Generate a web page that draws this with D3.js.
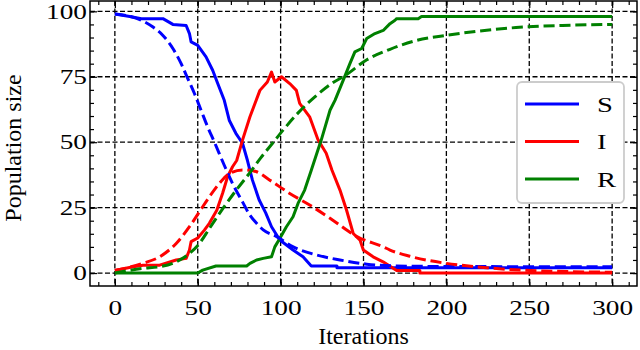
<!DOCTYPE html>
<html lang="en">
<head>
    <meta charset="UTF-8">
    <title>SIR</title>
    <script src="https://cdnjs.cloudflare.com/ajax/libs/d3/7.8.5/d3.min.js"></script>
    <style>
        body { margin: 0; background: #fff; }
        svg { display: block; }
        text { font-family: "Liberation Serif", "Times New Roman", serif; fill: #000; }
    </style>
</head>
<body>
<svg id="chart" width="640" height="350"></svg>
<script>
    // stochastic run (solid), [iteration, value]
    let stochS = [[0, 99], [9, 98], [16, 97.2], [29, 97.2], [35, 95], [43, 94.6], [45, 91.5], [46, 88.3], [50, 87],
        [55, 82.6], [59, 77.5], [62, 72.5], [66, 66], [69, 58.4], [73, 53.4], [77, 49.6], [80, 43], [83, 35.5],
        [87, 28], [91, 23], [94.5, 17.7], [99.5, 12.6], [107.5, 8.8], [113.5, 6.2], [118.5, 2.7], [134, 2.7],
        [134, 2], [300, 2]];
    let stochI = [[0, 1], [11, 2.4], [17, 3], [27, 3], [37, 5], [43, 5.6], [45, 8.8], [46, 12], [50, 13.4],
        [54, 16.4], [57, 19], [61.5, 24], [65, 30.5], [68, 36.8], [71, 40.6], [73.5, 43], [77, 50.8], [81.5, 59.7],
        [87.5, 69.8], [92, 73], [94.5, 76.8], [96.5, 73], [100.5, 75], [105.5, 72.4], [109.5, 69.8], [111.5, 64.8],
        [117.5, 59.7], [122.5, 51], [127.5, 45.8], [131, 39.3], [135.8, 31.7], [139.8, 24], [143.8, 15.1],
        [147.9, 12.6], [149.9, 8.8], [155.8, 6.2], [161.8, 4.3], [170, 1], [184, 1], [184, 0], [300, 0]];
    let stochR = [[0, 0], [50, 0], [53, 1.1], [61, 2.7], [79.5, 2.7], [81.5, 3.7], [85.5, 5], [89.5, 5.6],
        [94.5, 6.2], [96.5, 10], [99.5, 13.2], [103.5, 17.7], [107.5, 21.5], [110.5, 26.6], [114.5, 31.7],
        [118.5, 39.3], [122.5, 47], [124.5, 50.8], [129.8, 62.2], [132.8, 66], [137.8, 73.7], [141.8, 80],
        [144.8, 84.5], [148.9, 85.8], [151.9, 89.6], [156.9, 91.5], [161.9, 92.7], [166, 95.3], [169, 96.6],
        [170, 97.2], [183, 97.2], [185, 98], [300, 98]];

    // deterministic model (dashed)
    let detS = [[0, 99], [16, 96.6], [23, 94], [29, 90.8], [35, 85.8], [40, 80], [44, 74.3], [48, 68.6],
        [52, 62.2], [56, 55.8], [60, 50.1], [66, 41.2], [71, 34.2], [77, 27.2], [81.5, 22.1], [85.5, 19],
        [89.5, 16.5], [97.6, 13.9], [107.6, 10], [121.7, 6.9], [135.8, 5], [152, 3.4], [170, 2.7], [200, 2.5],
        [300, 2.4]];
    let detI = [[0, 1], [17, 3.7], [27, 6.2], [37, 11.3], [45, 17.7], [51, 23.4], [57, 29.1], [63, 34.2],
        [69, 38], [77, 39.4], [81.5, 39.3], [85.5, 38.7], [93.5, 35.5], [105.5, 30.4], [117.5, 26],
        [131.5, 20.2], [146, 13.9], [162, 10], [166, 8.8], [178, 6.4], [200, 3.7], [218, 2.4], [246, 1.1],
        [300, 0.3]];
    let detR = [[0, 0], [17, 1.8], [27, 2.4], [37, 4.3], [45, 7.5], [51, 11.3], [57, 17], [65, 24.5],
        [73, 31.5], [81, 38], [88, 44], [95, 49.5], [102, 55], [111, 61.5], [121, 67.5], [131, 72.5],
        [139, 75.5], [152, 81.5], [166, 85.5], [182, 88.9], [200, 90.8], [220, 92.5], [242, 93.8],
        [270, 94.6], [300, 95]];

    let xTicks = [0, 50, 100, 150, 200, 250, 300];
    let yTicks = [0, 25, 50, 75, 100];
    let legendNames = ["S", "I", "R"];
    let colors = ["#0000ff", "#ff0000", "#008000"];

    let svg = d3.select("#chart");
    let pLeft = 90, pRight = 637, pTop = 1, pBottom = 286;
    let stretch = 1.3; // tick and legend glyphs look wider in the reference

    let x = d3.scaleLinear().domain([-15, 315]).range([pLeft, pRight]);
    let y = d3.scaleLinear().domain([-4.95, 103.95]).range([pBottom, pTop]);

    // grid
    let grid = svg.append("g");
    grid.selectAll(".gx").data(xTicks).enter().append("line")
        .attr("x1", d => x(d)).attr("x2", d => x(d))
        .attr("y1", pTop).attr("y2", pBottom)
        .attr("stroke", "#000").attr("stroke-width", 1.3).attr("stroke-dasharray", "5,2.5");
    grid.selectAll(".gy").data(yTicks).enter().append("line")
        .attr("x1", pLeft).attr("x2", pRight)
        .attr("y1", d => y(d)).attr("y2", d => y(d))
        .attr("stroke", "#000").attr("stroke-width", 1.3).attr("stroke-dasharray", "5,2.5");

    // lines
    let line = d3.line().x(d => x(d[0])).y(d => y(d[1]));
    let smooth = d3.line().x(d => x(d[0])).y(d => y(d[1])).curve(d3.curveMonotoneX);

    [stochS, stochI, stochR].forEach(function (s, i) {
        svg.append("path").datum(s).attr("d", line)
            .attr("fill", "none").attr("stroke", colors[i]).attr("stroke-width", 3)
            .attr("stroke-linejoin", "round");
    });
    [detS, detI, detR].forEach(function (s, i) {
        svg.append("path").datum(s).attr("d", smooth)
            .attr("fill", "none").attr("stroke", colors[i]).attr("stroke-width", 3)
            .attr("stroke-dasharray", "11.1,4.8");
    });

    // axes, ticks pointing inward
    function styleAxis(g) {
        g.select(".domain").remove();
        g.attr("font-family", null);
        g.selectAll("line").attr("stroke", "#000").attr("stroke-width", 1.2);
        g.selectAll("text").style("font-size", "21px");
    }
    let xMinor = d3.range(-10, 311, 10);
    let yMinor = d3.range(0, 101, 5);

    svg.append("g").attr("transform", "translate(0," + pBottom + ")")
        .call(d3.axisBottom(x).tickValues(xMinor).tickSize(-4).tickFormat("")).call(styleAxis);
    let xAxis = svg.append("g").attr("transform", "translate(0," + pBottom + ")")
        .call(d3.axisBottom(x).tickValues(xTicks).tickSizeInner(-7).tickSizeOuter(0).tickPadding(14))
        .call(styleAxis);
    xAxis.selectAll("text").attr("transform", "scale(" + stretch + ",1)");
    svg.append("g").attr("transform", "translate(0," + pTop + ")")
        .call(d3.axisTop(x).tickValues(xMinor).tickSize(-4).tickFormat("")).call(styleAxis);
    svg.append("g").attr("transform", "translate(0," + pTop + ")")
        .call(d3.axisTop(x).tickValues(xTicks).tickSize(-7).tickFormat("")).call(styleAxis);

    svg.append("g").attr("transform", "translate(" + pLeft + ",0)")
        .call(d3.axisLeft(y).tickValues(yMinor).tickSize(-4).tickFormat("")).call(styleAxis);
    let yAxis = svg.append("g").attr("transform", "translate(" + pLeft + ",0)")
        .call(d3.axisLeft(y).tickValues(yTicks).tickSizeInner(-7).tickSizeOuter(0).tickPadding(3))
        .call(styleAxis);
    yAxis.selectAll("text").attr("x", -3 / stretch).attr("transform", "scale(" + stretch + ",1)");
    svg.append("g").attr("transform", "translate(" + pRight + ",0)")
        .call(d3.axisRight(y).tickValues(yMinor).tickSize(-4).tickFormat("")).call(styleAxis);
    svg.append("g").attr("transform", "translate(" + pRight + ",0)")
        .call(d3.axisRight(y).tickValues(yTicks).tickSize(-7).tickFormat("")).call(styleAxis);

    // frame
    svg.append("rect").attr("x", pLeft).attr("y", pTop)
        .attr("width", pRight - pLeft).attr("height", pBottom - pTop)
        .attr("fill", "none").attr("stroke", "#000").attr("stroke-width", 1.5);

    // axis titles
    svg.append("text").attr("x", (pLeft + pRight) / 2).attr("y", 344)
        .attr("text-anchor", "middle").style("font-size", "24px").text("Iterations");
    svg.append("text").attr("transform", "translate(21,148) rotate(-90)")
        .attr("text-anchor", "middle").style("font-size", "24px").text("Population size");

    // legend
    let legend = svg.append("g");
    legend.append("rect").attr("x", 517).attr("y", 82).attr("width", 107).attr("height", 121)
        .attr("rx", 5).attr("fill", "#fff").attr("stroke", "#cccccc").attr("stroke-width", 1.8);
    legendNames.forEach(function (n, i) {
        let ly = 104 + i * 37.5;
        legend.append("line").attr("x1", 525).attr("x2", 579).attr("y1", ly).attr("y2", ly)
            .attr("stroke", colors[i]).attr("stroke-width", 3);
        legend.append("text").attr("transform", "translate(597," + ly + ") scale(" + stretch + ",1)")
            .attr("dy", "0.35em").style("font-size", "22px").text(n);
    });
</script>
</body>
</html>
